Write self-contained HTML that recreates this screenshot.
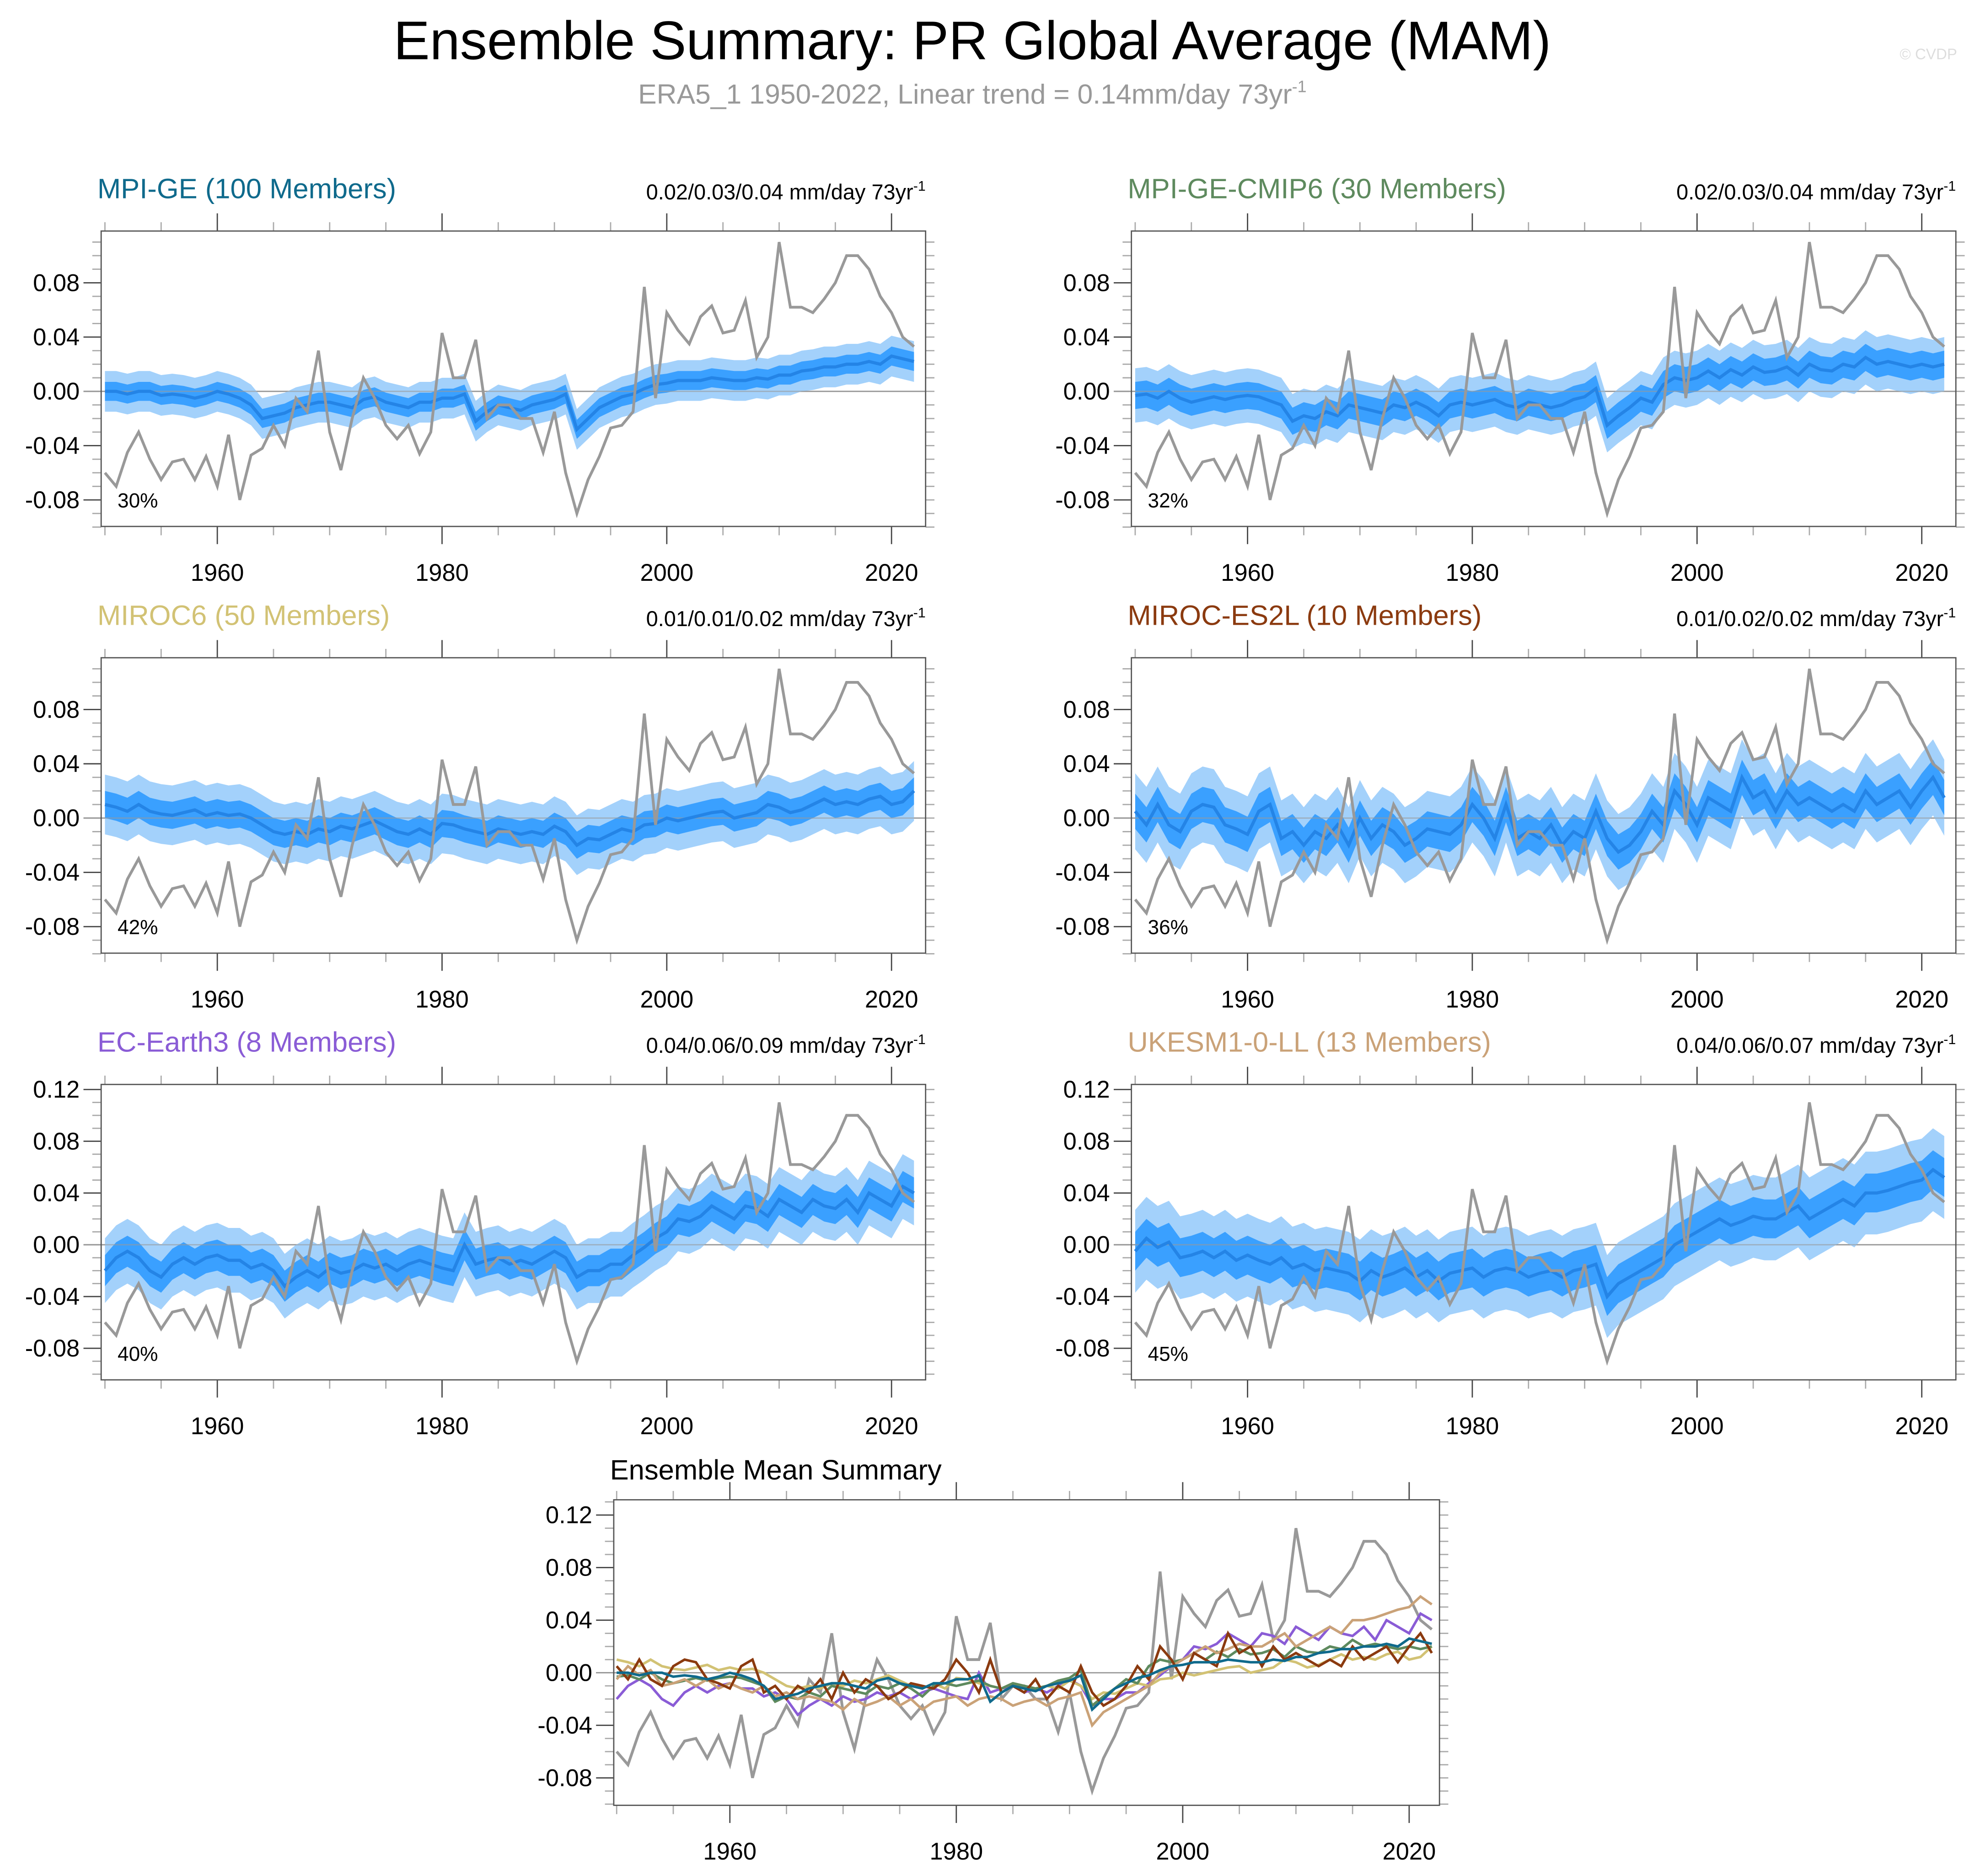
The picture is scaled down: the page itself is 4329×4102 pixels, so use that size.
<!DOCTYPE html>
<html><head><meta charset="utf-8"><style>
html,body{margin:0;padding:0;background:#fff}
svg{display:block}
text{font-family:"Liberation Sans",sans-serif}
</style></head><body>
<svg id="chart" width="4329" height="4102" viewBox="0 0 1568 1486" xmlns="http://www.w3.org/2000/svg">
<text x="770" y="47" font-size="43" text-anchor="middle">Ensemble Summary: PR Global Average (MAM)</text>
<text x="770" y="82" font-size="22" fill="#999" text-anchor="middle">ERA5_1 1950-2022, Linear trend = 0.14mm/day 73yr<tspan font-size="13" dy="-9">-1</tspan></text>
<text x="1550" y="47" font-size="12" fill="#ddd" text-anchor="end">© CVDP</text>
<g id="plots"></g>
</svg>
<script>
const years0 = 1950;
const era5 = [-0.06,-0.07,-0.045,-0.03,-0.05,-0.065,-0.052,-0.05,-0.065,-0.048,-0.07,-0.032,-0.08,-0.047,-0.042,-0.025,-0.04,-0.005,-0.015,0.03,-0.03,-0.058,-0.02,0.01,-0.005,-0.025,-0.035,-0.025,-0.046,-0.03,0.043,0.01,0.01,0.038,-0.02,-0.01,-0.01,-0.02,-0.02,-0.045,-0.015,-0.06,-0.09,-0.065,-0.048,-0.027,-0.025,-0.015,0.077,-0.005,0.058,0.045,0.035,0.055,0.063,0.043,0.045,0.067,0.025,0.04,0.11,0.062,0.062,0.058,0.068,0.08,0.1,0.1,0.09,0.07,0.058,0.04,0.033];
const meanMPIGE = [0,0,-0.002,0,0,-0.003,-0.002,-0.003,-0.005,-0.003,0,-0.002,-0.005,-0.01,-0.02,-0.018,-0.016,-0.012,-0.01,-0.008,-0.008,-0.01,-0.012,-0.006,-0.004,-0.008,-0.01,-0.012,-0.008,-0.008,-0.005,-0.005,-0.002,-0.022,-0.015,-0.01,-0.012,-0.014,-0.01,-0.008,-0.006,-0.002,-0.028,-0.02,-0.012,-0.008,-0.004,-0.002,0.002,0.005,0.006,0.008,0.008,0.008,0.01,0.009,0.008,0.008,0.01,0.009,0.012,0.012,0.015,0.016,0.018,0.018,0.02,0.02,0.022,0.02,0.026,0.024,0.022];
const meanCMIP6 = [-0.003,-0.002,-0.005,0,-0.005,-0.008,-0.006,-0.004,-0.006,-0.004,-0.003,-0.004,-0.007,-0.01,-0.022,-0.018,-0.02,-0.015,-0.018,-0.01,-0.012,-0.014,-0.016,-0.01,-0.012,-0.008,-0.012,-0.018,-0.01,-0.008,-0.01,-0.008,-0.006,-0.01,-0.012,-0.008,-0.01,-0.012,-0.01,-0.006,-0.004,0.002,-0.025,-0.018,-0.012,-0.005,-0.008,0.005,0.01,0.008,0.01,0.015,0.01,0.016,0.012,0.018,0.014,0.015,0.018,0.012,0.02,0.016,0.015,0.02,0.018,0.025,0.02,0.022,0.02,0.018,0.02,0.018,0.02];
const meanMIROC6 = [0.01,0.008,0.005,0.01,0.005,0.003,0.002,0.004,0.006,0.002,0.004,0.002,0.003,0,-0.005,-0.01,-0.012,-0.01,-0.012,-0.008,-0.01,-0.006,-0.008,-0.005,-0.002,-0.006,-0.01,-0.012,-0.008,-0.012,-0.004,-0.005,-0.008,-0.01,-0.012,-0.008,-0.01,-0.012,-0.01,-0.012,-0.006,-0.01,-0.02,-0.015,-0.016,-0.012,-0.008,-0.01,-0.005,-0.004,0,-0.002,0,0.002,0.004,0.005,0,0.002,0.004,0.01,0.008,0.004,0.006,0.01,0.014,0.01,0.012,0.01,0.014,0.016,0.01,0.012,0.02];
const meanES2L = [0.005,-0.005,0.01,-0.005,-0.01,0.005,0.01,0.008,-0.005,-0.008,-0.012,0.005,0.01,-0.015,-0.01,-0.02,-0.01,-0.015,-0.005,-0.02,0,-0.015,-0.005,-0.01,-0.02,-0.015,-0.008,-0.01,-0.012,-0.005,0.01,0.0,-0.015,0.01,-0.015,-0.01,-0.015,-0.005,-0.02,-0.01,-0.015,0.005,-0.015,-0.025,-0.02,-0.01,0.005,-0.005,0.02,0.01,-0.005,0.015,0.01,0.005,0.03,0.015,0.02,0.005,0.02,0.01,0.015,0.01,0.005,0.01,0.005,0.02,0.01,0.015,0.02,0.008,0.02,0.03,0.015];
const meanEC = [-0.02,-0.01,-0.005,-0.01,-0.02,-0.025,-0.015,-0.01,-0.015,-0.01,-0.008,-0.012,-0.012,-0.018,-0.015,-0.02,-0.032,-0.025,-0.02,-0.025,-0.018,-0.022,-0.02,-0.015,-0.018,-0.015,-0.02,-0.015,-0.012,-0.015,-0.018,-0.02,0,-0.015,-0.012,-0.01,-0.015,-0.012,-0.015,-0.01,-0.005,-0.01,-0.025,-0.02,-0.02,-0.015,-0.015,-0.008,-0.002,0.005,0.01,0.02,0.018,0.022,0.03,0.025,0.02,0.03,0.028,0.022,0.035,0.03,0.025,0.035,0.03,0.028,0.035,0.025,0.04,0.035,0.03,0.045,0.04];
const meanUKESM = [-0.005,0.005,-0.002,0.002,-0.01,-0.008,-0.005,-0.01,-0.005,-0.012,-0.008,-0.012,-0.015,-0.01,-0.018,-0.015,-0.02,-0.018,-0.02,-0.022,-0.028,-0.02,-0.025,-0.022,-0.018,-0.025,-0.02,-0.028,-0.022,-0.02,-0.018,-0.025,-0.02,-0.018,-0.02,-0.025,-0.022,-0.02,-0.025,-0.02,-0.018,-0.015,-0.04,-0.03,-0.025,-0.02,-0.015,-0.01,0,0.005,0.01,0.015,0.02,0.015,0.018,0.022,0.02,0.02,0.025,0.03,0.02,0.025,0.03,0.035,0.03,0.04,0.04,0.042,0.045,0.048,0.05,0.058,0.052];
const innerHalf = [0.007,0.01,0.01,0.013,0.012,0.015];
const outerHalf = [0.015,0.02,0.022,0.028,0.025,0.032];
const modelNames = ["MPI-GE (100 Members)","MPI-GE-CMIP6 (30 Members)","MIROC6 (50 Members)","MIROC-ES2L (10 Members)","EC-Earth3 (8 Members)","UKESM1-0-LL (13 Members)"];
const modelColors = ["#0f6a8c","#5e8a5e","#d2c274","#8b3a0f","#8a5cd6","#caa278"];
const trendLabels = ["0.02/0.03/0.04","0.02/0.03/0.04","0.01/0.01/0.02","0.01/0.02/0.02","0.04/0.06/0.09","0.04/0.06/0.07"];
const pctLabels = ["30%","32%","42%","36%","40%","45%"];
const yTicksA = [-0.08,-0.04,0,0.04,0.08];
const yTicksB = [-0.08,-0.04,0,0.04,0.08,0.12];
const xTicks = [1960,1980,2000,2020];
const means = [meanMPIGE,meanCMIP6,meanMIROC6,meanES2L,meanEC,meanUKESM];

const NS="http://www.w3.org/2000/svg";
const root=document.getElementById('plots');
function el(tag,attrs,parent){const e=document.createElementNS(NS,tag);for(const k in attrs)e.setAttribute(k,attrs[k]);(parent||root).appendChild(e);return e;}

function axes(g,box,yMin,yMax,yTicks){
  const X=y=>box.x0+(y-box.y0yr)*box.pxYr;
  const Y=v=>box.zero-(v)*box.pxU;
  for(let v=-0.1;v<=yMax+1e-9;v+=0.01){const vv=Math.round(v*100)/100;if(vv<yMin-1e-9)continue;const yy=Y(vv);
    const maj=yTicks.some(t=>Math.abs(t-vv)<1e-9);const L=maj?14:7;
    el('line',{x1:box.l-L,x2:box.l,y1:yy,y2:yy,stroke:maj?'#444':'#aaa','stroke-width':1},g);
    el('line',{x1:box.r,x2:box.r+7,y1:yy,y2:yy,stroke:'#aaa','stroke-width':1},g);}
  yTicks.forEach(t=>{const tx=el('text',{x:box.l-17,y:Y(t)+6.5,'font-size':19,'text-anchor':'end'},g);tx.textContent=t.toFixed(2);
    
    });
  for(let yr=1950;yr<=2020;yr+=5){const xx=X(yr);const maj=yr%20===0;const L=maj?14:7;
    el('line',{x1:xx,x2:xx,y1:box.t-L,y2:box.t,stroke:maj?'#444':'#aaa','stroke-width':1},g);
    el('line',{x1:xx,x2:xx,y1:box.b,y2:box.b+L,stroke:maj?'#444':'#aaa','stroke-width':1},g);}
  xTicks.forEach(t=>{const tx=el('text',{x:X(t),y:box.b+43,'font-size':19,'text-anchor':'middle'},g);tx.textContent=t;
    
    });
  el('line',{x1:box.l-14,x2:box.r,y1:Y(0),y2:Y(0),stroke:'#999','stroke-width':1},g);
  return {X,Y};
}
function lineD(arr,X,Y){return arr.map((v,i)=>(i?'L':'M')+X(years0+i).toFixed(2)+' '+Y(v).toFixed(2)).join(' ');}
function bandD(arr,h,X,Y){let d=arr.map((v,i)=>(i?'L':'M')+X(years0+i).toFixed(2)+' '+Y(v+h).toFixed(2)).join(' ');
  for(let i=arr.length-1;i>=0;i--)d+=' L'+X(years0+i).toFixed(2)+' '+Y(arr[i]-h).toFixed(2);return d+'Z';}

const rows=[{t:183,b:417,zero:310,pxU:1075,yt:yTicksA},{t:521,b:755,zero:648,pxU:1075,yt:yTicksA},{t:859,b:1093,zero:986,pxU:1025,yt:yTicksB}];
for(let m=0;m<6;m++){
  const row=rows[Math.floor(m/2)],col=m%2,off=col*816;
  const box={l:80+off,r:733+off,t:row.t,b:row.b,zero:row.zero,pxU:row.pxU,x0:83+off,y0yr:1950,pxYr:8.9};
  const g=el('g',{});
  
  
  const {X,Y}=axes(g,box,-0.1,row.yt.length>5?0.12:0.11,row.yt);
  const bo=el('path',{d:bandD(means[m],outerHalf[m],X,Y),fill:'#a3d1fb'},g);
  
  
  const bi=el('path',{d:bandD(means[m],innerHalf[m],X,Y),fill:'#3aa0ff'},g);
  
  
  el('line',{x1:box.l,x2:box.r,y1:Y(0),y2:Y(0),stroke:'#999','stroke-width':1,opacity:0.6},g);
  const ml=el('path',{d:lineD(means[m],X,Y),fill:'none',stroke:'#2484e6','stroke-width':2.5},g);
  
  
  const ol=el('path',{d:lineD(era5,X,Y),fill:'none',stroke:'#999','stroke-width':2.2},g);
  
  
  el('rect',{x:box.l,y:box.t,width:box.r-box.l,height:box.b-box.t,fill:'none',stroke:'#555','stroke-width':1},g);
  const tt=el('text',{x:77+off,y:row.t-26,'font-size':22.3,fill:modelColors[m]},g);tt.textContent=modelNames[m];
  
  
  const tr=el('text',{x:box.r,y:row.t-25,'font-size':17,'text-anchor':'end'},g);
  tr.innerHTML=trendLabels[m]+' mm/day 73yr<tspan font-size="11" dy="-7">-1</tspan>';
  
  
  const pc=el('text',{x:93+off,y:row.b-15,'font-size':16},g);pc.textContent=pctLabels[m];
  
  
}
{
  const box={l:486,r:1140,t:1188,b:1430,zero:1325,pxU:1041,x0:488.3,y0yr:1950,pxYr:8.967};
  const g=el('g',{});
  
  
  const {X,Y}=axes(g,box,-0.1,0.13,yTicksB);
  const ol=el('path',{d:lineD(era5,X,Y),fill:'none',stroke:'#999','stroke-width':2.2},g);
  
  
  [4,2,1,5,3,0].forEach(m=>{const p=el('path',{d:lineD(means[m],X,Y),fill:'none',stroke:modelColors[m],'stroke-width':2},g);
    
    });
  el('rect',{x:box.l,y:box.t,width:box.r-box.l,height:box.b-box.t,fill:'none',stroke:'#555','stroke-width':1},g);
  const tt=el('text',{x:483,y:1172,'font-size':22.3},g);tt.textContent='Ensemble Mean Summary';
  
  
}
</script>
</body></html>
